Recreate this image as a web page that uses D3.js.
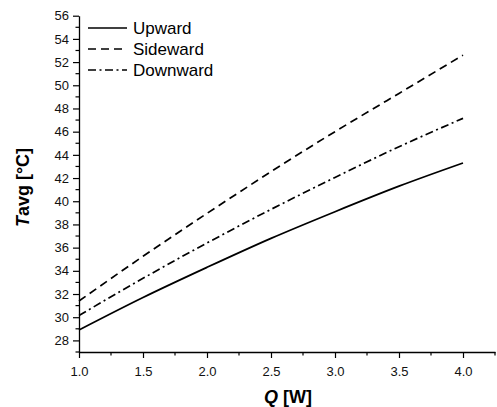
<!DOCTYPE html>
<html>
<head>
<meta charset="utf-8">
<script src="https://cdn.jsdelivr.net/npm/d3@7"></script>
<style>
  html, body { margin: 0; padding: 0; background: #fff; }
  svg { display: block; font-family: Arial, "Liberation Sans", sans-serif; }
</style>
</head>
<body>
<svg id="chart" width="497" height="407"></svg>
<script>
// Heat load Q [W]
const heatLoad = [1.0, 1.5, 2.0, 2.5, 3.0, 3.5, 4.0];
// Average temperature [°C] per orientation
const upward    = [28.9, 31.7, 34.3, 36.8, 39.1, 41.3, 43.3];
const sideward  = [31.4, 35.25, 38.95, 42.55, 46.0, 49.3, 52.6];
const downward  = [30.15, 33.35, 36.4, 39.3, 42.05, 44.7, 47.15];
const seriesNames = ["Upward", "Sideward", "Downward"];
const yTickValues = [28, 30, 32, 34, 36, 38, 40, 42, 44, 46, 48, 50, 52, 54, 56];
const xTickValues = [1.0, 1.5, 2.0, 2.5, 3.0, 3.5, 4.0];

const dashes = [null, "8,5", "8,3.5,2,3.5"];
const seriesValues = [upward, sideward, downward];

const svg = d3.select("#chart");
const margin = { left: 79, right: 2, top: 15.7, bottom: 55 };
const W = 497, H = 407;

const x = d3.scaleLinear().domain([1.0, 4.25]).range([margin.left, margin.left + 416]);
const y = d3.scaleLinear().domain([27, 56]).range([H - margin.bottom, margin.top]);

// minor ticks
const xMinor = d3.range(1.25, 4.26, 0.5);
const yMinor = d3.range(27, 56, 2);

const gx = svg.append("g").attr("transform", `translate(0,${y(27)})`);
gx.call(d3.axisBottom(x).tickValues(xTickValues).tickFormat(d3.format(".1f")).tickSize(6).tickSizeOuter(0));
gx.append("g").selectAll("line").data(xMinor).join("line")
  .attr("x1", d => x(d)).attr("x2", d => x(d)).attr("y1", 0).attr("y2", 3.5)
  .attr("stroke", "#000").attr("stroke-width", 1.2);

const gy = svg.append("g").attr("transform", `translate(${x(1.0)},0)`);
gy.call(d3.axisLeft(y).tickValues(yTickValues).tickFormat(d3.format("d")).tickSize(6).tickSizeOuter(0));
gy.append("g").selectAll("line").data(yMinor).join("line")
  .attr("y1", d => y(d)).attr("y2", d => y(d)).attr("x1", 0).attr("x2", -3.5)
  .attr("stroke", "#000").attr("stroke-width", 1.2);

[gx, gy].forEach(g => {
  g.select(".domain").attr("stroke", "#000").attr("stroke-width", 1.3);
  g.selectAll(".tick line").attr("stroke", "#000").attr("stroke-width", 1.2);
  g.selectAll(".tick text").attr("font-size", 13).attr("fill", "#111")
    .attr("font-family", "Arial, 'Liberation Sans', sans-serif");
});
gx.selectAll(".tick text").attr("dy", "1.15em");
gy.selectAll(".tick text").attr("x", -10);

// curves
const line = d3.line()
  .x((d, i) => x(heatLoad[i]))
  .y(d => y(d))
  .curve(d3.curveNatural);

seriesValues.forEach((vals, k) => {
  svg.append("path")
    .datum(vals)
    .attr("d", line)
    .attr("fill", "none")
    .attr("stroke", "#000")
    .attr("stroke-width", 1.7)
    .attr("stroke-dasharray", dashes[k]);
});

// legend
const legend = svg.append("g");
seriesNames.forEach((name, k) => {
  const yy = 28 + k * 21;
  legend.append("line")
    .attr("x1", 88).attr("x2", 127).attr("y1", yy).attr("y2", yy)
    .attr("stroke", "#000").attr("stroke-width", 1.7)
    .attr("stroke-dasharray", dashes[k]);
  legend.append("text")
    .attr("x", 133).attr("y", yy + 6.3)
    .attr("font-size", 17).attr("fill", "#000")
    .text(name);
});

// axis titles
const xt = svg.append("text")
  .attr("x", 288).attr("y", 403)
  .attr("text-anchor", "middle")
  .attr("font-size", 18).attr("font-weight", "bold");
xt.append("tspan").attr("font-style", "italic").text("Q");
xt.append("tspan").text(" [W]");

const yt = svg.append("text")
  .attr("transform", "translate(29,187.5) rotate(-90)")
  .attr("text-anchor", "middle")
  .attr("font-size", 18).attr("font-weight", "bold");
yt.append("tspan").attr("font-style", "italic").text("T");
yt.append("tspan").text("avg [°C]");
</script>
</body>
</html>
